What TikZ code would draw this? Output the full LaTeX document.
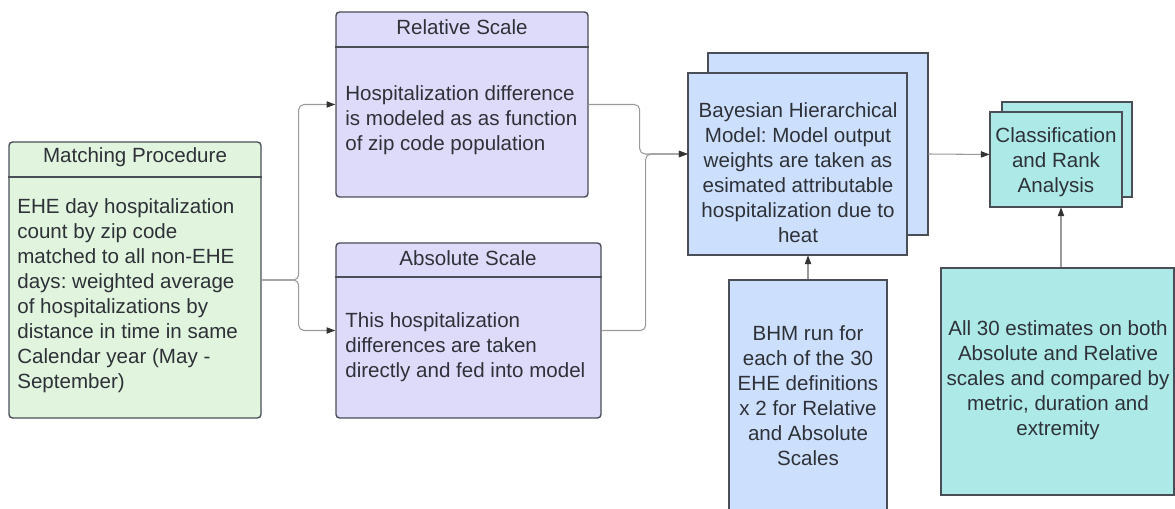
\documentclass[tikz,border=0pt]{standalone}
\usepackage{fontspec}
\setmainfont{Liberation Sans}
\usetikzlibrary{arrows.meta,fit}

\definecolor{matchfill}{HTML}{E1F4DE}
\definecolor{scalefill}{HTML}{DEDBFA}
\definecolor{bhmfill}{HTML}{CCDFFC}
\definecolor{rankfill}{HTML}{ACE9E7}
\definecolor{edgegray}{HTML}{4A4F57}
\definecolor{linkgray}{HTML}{9A9A9A}
\definecolor{tipgray}{HTML}{333333}
\definecolor{textgray}{HTML}{2E3138}

\begin{document}
\frenchspacing
\begin{tikzpicture}[x=0.02cm,y=-0.02cm,
    box/.style={draw=edgegray, line width=0.8pt, inner sep=0pt},
    txt/.style={text=textgray, font=\fontsize{11.7}{14.2}\selectfont, inner sep=0pt},
    conn/.style={draw=linkgray, line width=0.6pt, rounded corners=3pt,
        -{Triangle[length=5pt,width=3.6pt,color=tipgray]}}]
    \clip (0,0) rectangle (1175,509);

    % boxes with a title bar
    \node[box, fill=matchfill, rounded corners=2pt, fit={(9,142) (261,418)}] (match) {};
    \draw[box] (match.west |- 0,177) -- (match.east |- 0,177);
    \node[txt] (matchT) at (135,157) {Matching Procedure};
    \node[txt, align=left, anchor=west] (matchB) at (17,296) {EHE day hospitalization\\count by zip code\\matched to all non-EHE\\days: weighted average\\of hospitalizations by\\distance in time in same\\Calendar year (May -\\September)};

    \node[box, fill=scalefill, rounded corners=2pt, fit={(336,12) (588,197)}] (rel) {};
    \draw[box] (rel.west |- 0,47) -- (rel.east |- 0,47);
    \node[txt] (relT) at (462,27) {Relative Scale};
    \node[txt, align=left, anchor=west] (relB) at (345,120) {Hospitalization difference\\is modeled as as function\\of zip code population};

    \node[box, fill=scalefill, rounded corners=2pt, fit={(336,243) (601,418)}] (abs) {};
    \draw[box] (abs.west |- 0,277) -- (abs.east |- 0,277);
    \node[txt] (absT) at (468,258) {Absolute Scale};
    \node[txt, align=left, anchor=west] (absB) at (345,347) {This hospitalization\\differences are taken\\directly and fed into model};

    % stacked model box
    \draw[box, fill=bhmfill] (708,53) rectangle (928,235);
    \draw[box, fill=bhmfill] (688,73) rectangle (907,255);
    \node[inner sep=0pt, fit={(688,53) (928,255)}] (bhm) {};
    \node[txt, align=center] (bhmT) at (798,173) {Bayesian Hierarchical\\Model: Model output\\weights are taken as\\esimated attributable\\hospitalization due to\\heat};

    \node[box, fill=bhmfill, fit={(729,280) (887,530)}] (run) {};
    \node[txt, align=center] (runT) at (808,396) {BHM run for\\each of the 30\\EHE definitions\\x 2 for Relative\\and Absolute\\Scales};

    % stacked ranking box
    \draw[box, fill=rankfill] (1002,102) rectangle (1132,197);
    \draw[box, fill=rankfill] (990,112) rectangle (1122,207);
    \node[inner sep=0pt, fit={(990,102) (1132,207)}] (cls) {};
    \node[txt, align=center] (clsT) at (1056,162) {Classification\\and Rank\\Analysis};

    \node[box, fill=rankfill, fit={(941,268) (1174,495)}] (all) {};
    \node[txt, align=center] (allT) at (1058,380) {All 30 estimates on both\\Absolute and Relative\\scales and compared by\\metric, duration and\\extremity};

    % connectors
    \draw[conn] (match.east) -- ++(37,0) |- (rel.west);
    \draw[conn] (match.east) -- ++(37,0) |- (abs.west);
    \draw[conn] (rel.east) -- ++(51,0) |- (bhm.west);
    \draw[conn] (abs.east) -- ++(44,0) |- (bhm.west);
    \draw[conn] (bhm.east) -- (cls.west);
    \draw[conn] (run.north) -- (bhm.south);
    \draw[conn] (all.north -| cls.south) -- (cls.south);
\end{tikzpicture}
\end{document}
